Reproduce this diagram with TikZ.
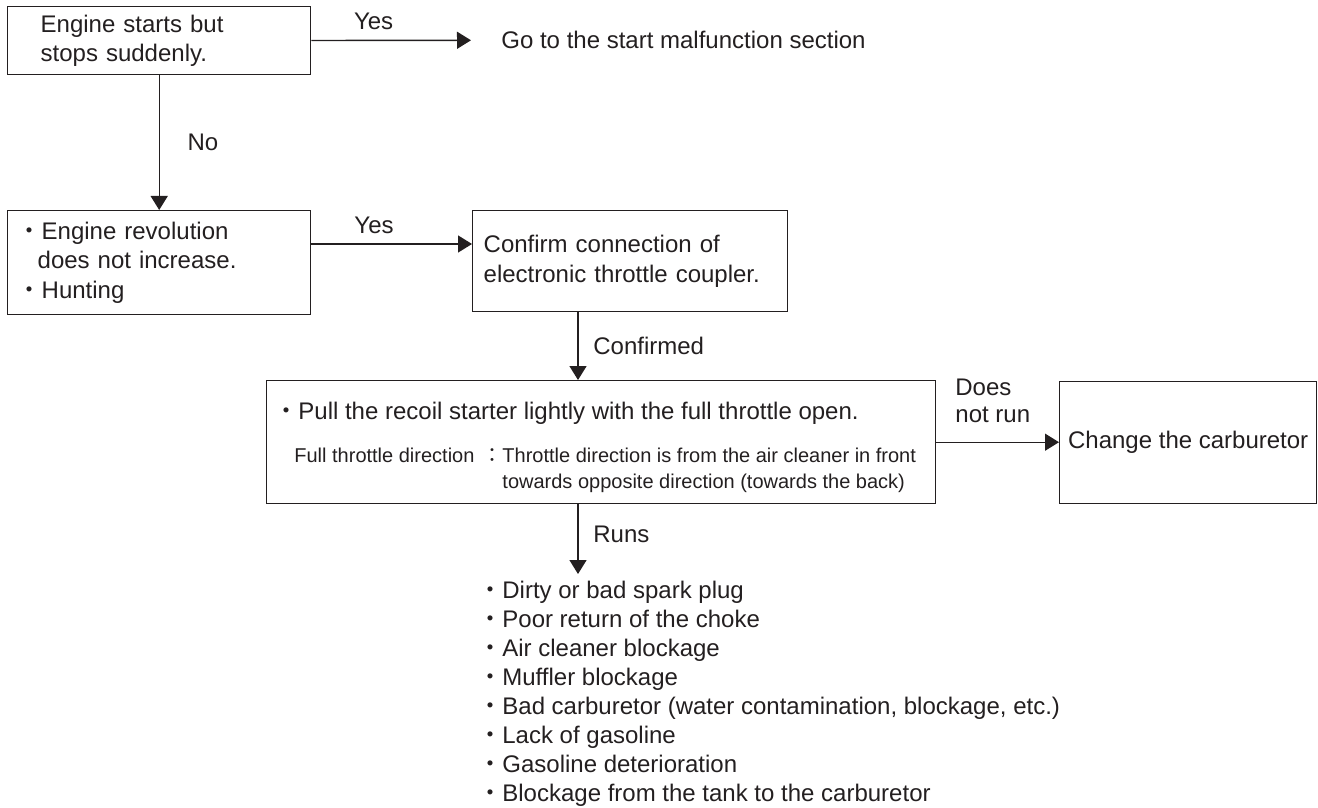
\documentclass[tikz,border=0pt]{standalone}
\usepackage{fontspec}
\setmainfont{Liberation Sans}
\newfontfamily\cjk{Noto Sans CJK JP}
\usetikzlibrary{arrows.meta}
\definecolor{ink}{HTML}{231F20}
\newcommand\dotmark{{\cjk ・}}
\newcommand\bodyfs{\fontsize{12}{14.7}\selectfont}
\newcommand\notefs{\fontsize{10}{13}\selectfont}

\begin{document}
\begin{tikzpicture}[x=0.5pt, y=-0.5pt, font=\bodyfs, text=ink,
    box/.style={draw=ink, line width=0.7pt, anchor=north west, align=left, inner ysep=0pt},
    arr/.style={draw=ink, line width=0.7pt, -{Triangle[length=7pt,width=8.5pt]}},
    item/.style={anchor=base west, inner sep=0pt}]
    \useasboundingbox (0,0) rectangle (1318,808);
    % boxes
    \node[box, minimum height=34pt, text width=118.5pt, inner xsep=16.5pt] (stops) at (7,6) {Engine starts but\\stops suddenly.};
    \node[box, minimum height=52pt, text width=141.5pt, inner xsep=5pt] (revbox) at (7,210) {\dotmark Engine revolution\\\hspace*{10pt}does not increase.\\\dotmark Hunting};
    \node[box, minimum height=50.5pt, text width=146.5pt, inner xsep=5.5pt] (coupler) at (472,210) {Confirm connection of\\electronic throttle coupler.};
    \node[box, minimum width=334.5pt, minimum height=61.5pt, inner sep=0pt] (pullbox) at (266,380) {};
    \node[box, minimum width=128.5pt, minimum height=61pt, inner sep=0pt, align=center] (carb) at (1059,381) {Change the carburetor};
    \node[anchor=west, inner xsep=15pt, inner ysep=0pt] (goto) at (471,40) {Go to the start malfunction section};
    % texts in the big box
    \node[item] (pull) at (274,419) {\dotmark Pull the recoil starter lightly with the full throttle open.};
    \node[item, font=\notefs] (fulldir) at (294,462) {Full throttle direction\hspace{4pt}{\cjk ：}\begin{tabular}[t]{@{}l@{}}Throttle direction is from the air cleaner in front\\towards opposite direction (towards the back)\end{tabular}};
    % connectors
    \coordinate (cx) at (578,0);
    \coordinate (y2) at (0,244);
    \coordinate (runtip) at (578,574);
    \draw[arr] (stops) -- node[above, pos=0.39, inner sep=5pt] (yes1) {Yes} (goto);
    \draw[arr] (stops) -- node[right=10.5pt] (no) {No} (revbox);
    \draw[arr] (revbox.east |- y2) -- node[above, pos=0.39, inner sep=5pt] (yes2) {Yes} (coupler.west |- y2);
    \draw[arr] (coupler.south -| cx) -- node[right=4pt] (confirmed) {Confirmed} (pullbox.north -| cx);
    \draw[arr] (pullbox.east) -- (carb.west |- pullbox.east);
    \node[item, align=left, font=\fontsize{12}{13.5}\selectfont] (dnr) at (955,422.5) {Does\\not run};
    \draw[arr] (pullbox.south -| cx) -- node[right=4pt, pos=0.43] (runs) {Runs} (runtip);
    % causes
    \foreach \t [count=\i from 0] in {Dirty or bad spark plug, Poor return of the choke, Air cleaner blockage, Muffler blockage, {Bad carburetor (water contamination, blockage, etc.)}, Lack of gasoline, Gasoline deterioration, Blockage from the tank to the carburetor}
        \node[item] (cause\i) at (478,598.5+29*\i) {\dotmark\t};
\end{tikzpicture}
\end{document}
